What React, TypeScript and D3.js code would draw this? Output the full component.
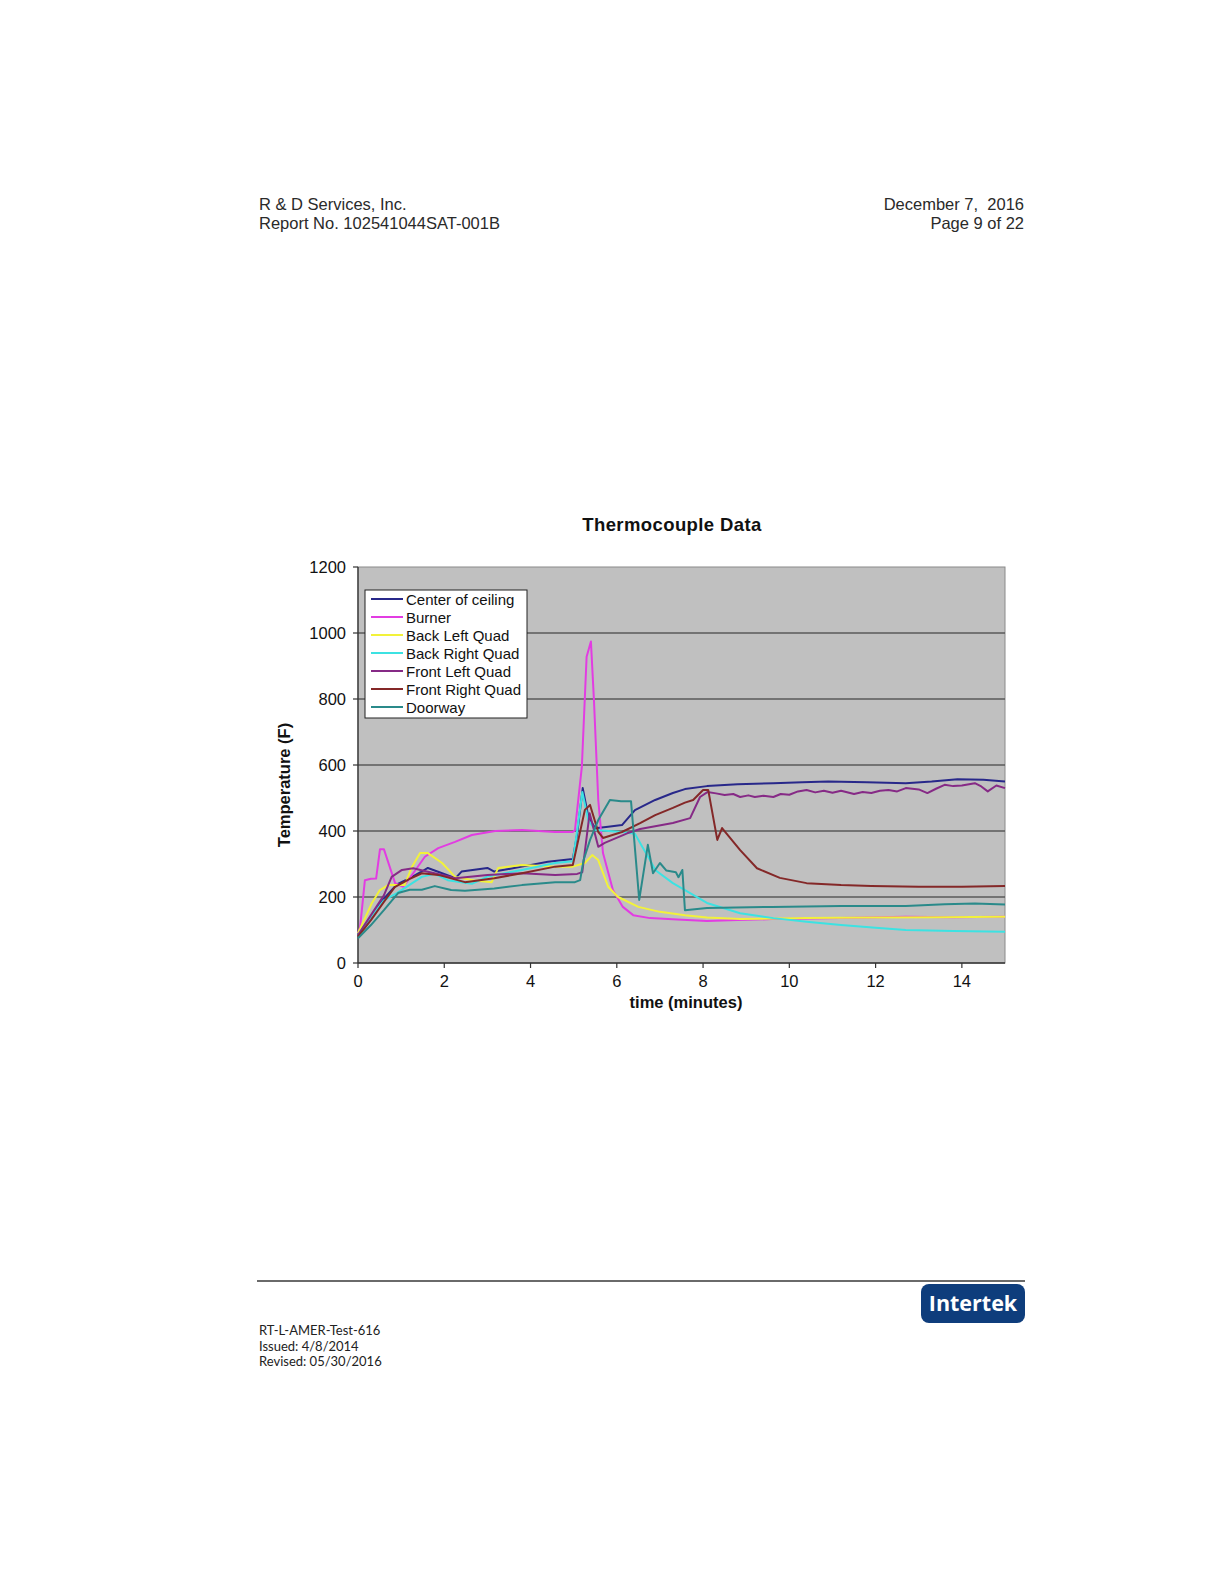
import React from "react";
import * as d3 from "d3";

type Pt = [number, number];

const seriesNames = [
  "Center of ceiling",
  "Burner",
  "Back Left Quad",
  "Back Right Quad",
  "Front Left Quad",
  "Front Right Quad",
  "Doorway",
];
const seriesColors = ["#28288a", "#e23ce2", "#f2f23a", "#3ce2e2", "#862a86", "#842828", "#2a8a8a"];

const centerCeiling: Pt[] = [
  [0, 85], [0.3, 140], [0.6, 195], [0.9, 238], [1.2, 257], [1.45, 275], [1.62, 288], [1.95, 272],
  [2.26, 257], [2.4, 277], [3.0, 288], [3.16, 277], [3.8, 292], [4.4, 307], [4.98, 315], [5.08, 390],
  [5.21, 530], [5.34, 443], [5.5, 408], [5.8, 413], [6.12, 418], [6.42, 463], [6.89, 494], [7.3, 515],
  [7.58, 527], [8.09, 536], [8.8, 542], [9.63, 545], [10.3, 548], [10.9, 550], [11.8, 548], [12.7, 545],
  [13.3, 550], [13.9, 557], [14.5, 555], [15, 550],
];
const burner: Pt[] = [
  [0, 90], [0.05, 110], [0.16, 251], [0.3, 255], [0.42, 256], [0.51, 345], [0.6, 345], [0.86, 242],
  [1.05, 231], [1.28, 272], [1.55, 322], [1.86, 348], [2.25, 367], [2.64, 388], [3.18, 400], [3.8, 403],
  [4.57, 397], [4.98, 397], [5.03, 403], [5.19, 595], [5.3, 928], [5.4, 974], [5.47, 797], [5.57, 494],
  [5.68, 333], [5.91, 221], [6.14, 170], [6.38, 145], [6.77, 136], [7.4, 132], [8.09, 127], [8.8, 130],
  [9.6, 133], [10.5, 135], [11.5, 137], [12.7, 140], [13.8, 139], [15, 140],
];
const backLeft: Pt[] = [
  [0, 90], [0.32, 181], [0.5, 220], [0.7, 236], [1.08, 236], [1.25, 291], [1.44, 333], [1.62, 333],
  [1.95, 303], [2.25, 261], [2.7, 250], [3.1, 245], [3.25, 288], [3.8, 297], [4.57, 292], [4.98, 292],
  [5.26, 303], [5.43, 327], [5.57, 312], [5.8, 231], [6.03, 200], [6.5, 170], [7.0, 155], [7.58, 145],
  [8.09, 138], [8.86, 133], [10.4, 136], [12.0, 138], [13.5, 139], [15, 140],
];
const backRight: Pt[] = [
  [0, 85], [0.3, 140], [0.6, 190], [0.9, 212], [1.08, 227], [1.48, 261], [1.78, 270], [2.08, 251],
  [2.64, 240], [3.0, 262], [3.8, 282], [4.57, 303], [4.98, 308], [5.08, 400], [5.2, 518], [5.34, 433],
  [5.5, 403], [6.12, 397], [6.42, 392], [6.59, 352], [6.77, 312], [6.89, 282], [7.3, 242], [7.58, 221],
  [8.09, 182], [8.86, 151], [9.63, 136], [10.4, 125], [11.2, 115], [12.0, 107], [12.7, 100], [13.8, 97],
  [15, 95],
];
const frontLeft: Pt[] = [
  [0, 85], [0.3, 145], [0.6, 205], [0.78, 261], [1.02, 282], [1.28, 287], [1.57, 278], [2.0, 265],
  [2.26, 257], [3.0, 267], [3.8, 272], [4.57, 267], [5.08, 270], [5.2, 275], [5.37, 454], [5.57, 352],
  [5.72, 364], [6.24, 393], [6.54, 406], [7.3, 424], [7.7, 439], [7.93, 503], [8.1, 518], [8.3, 514],
  [8.5, 509], [8.7, 512], [8.86, 503], [9.05, 508], [9.2, 503], [9.4, 507], [9.63, 503], [9.8, 512],
  [10.0, 510], [10.2, 520], [10.4, 524], [10.6, 517], [10.8, 522], [11.0, 516], [11.2, 522],
  [11.5, 512], [11.7, 518], [11.9, 515], [12.1, 522], [12.3, 524], [12.5, 520], [12.7, 530],
  [13.0, 526], [13.2, 515], [13.4, 528], [13.6, 540], [13.8, 536], [14.0, 538], [14.3, 545],
  [14.45, 535], [14.6, 520], [14.8, 538], [15, 530],
];
const frontRight: Pt[] = [
  [0, 80], [0.3, 130], [0.6, 185], [0.86, 231], [1.2, 255], [1.48, 272], [1.86, 267], [2.48, 245],
  [3.16, 257], [3.8, 272], [4.57, 292], [4.98, 297], [5.26, 464], [5.38, 479], [5.57, 397], [5.68, 379],
  [6.12, 397], [6.54, 424], [6.89, 448], [7.3, 470], [7.58, 486], [7.77, 494], [8.0, 524], [8.12, 524],
  [8.33, 373], [8.44, 409], [8.86, 342], [9.25, 287], [9.78, 258], [10.4, 242], [11.2, 236],
  [11.9, 233], [13.0, 231], [14.0, 231], [15, 233],
];
const doorway: Pt[] = [
  [0, 75], [0.3, 115], [0.6, 160], [0.93, 212], [1.2, 222], [1.48, 222], [1.78, 233], [2.16, 221],
  [2.48, 219], [3.16, 226], [3.8, 236], [4.57, 245], [5.03, 245], [5.15, 251], [5.23, 312],
  [5.38, 373], [5.57, 433], [5.84, 494], [6.1, 490], [6.33, 490], [6.52, 191], [6.72, 358], [6.84, 272],
  [7.0, 303], [7.15, 280], [7.37, 275], [7.43, 260], [7.52, 282], [7.58, 160], [8.09, 167],
  [9.6, 170], [11.2, 173], [12.7, 173], [13.6, 178], [14.3, 180], [15, 177],
];
const allSeries = [centerCeiling, burner, backLeft, backRight, frontLeft, frontRight, doorway];

const xTicks = [0, 2, 4, 6, 8, 10, 12, 14];
const yTicks = [0, 200, 400, 600, 800, 1000, 1200];

const headerLeft = ["R & D Services, Inc.", "Report No. 102541044SAT-001B"];
const headerRight = ["December 7,  2016", "Page 9 of 22"];
const footerLines = ["RT-L-AMER-Test-616", "Issued: 4/8/2014", "Revised: 05/30/2016"];

const PL = 358, PR = 1005, PT = 567, PB = 963;

export default function App() {
  const x = d3.scaleLinear().domain([0, 15]).range([PL, PR]);
  const y = d3.scaleLinear().domain([0, 1200]).range([PB, PT]);
  const line = d3.line<Pt>().x((d) => x(d[0])).y((d) => y(d[1]));
  const arial = "'Liberation Sans', Arial, sans-serif";

  React.useEffect(() => {
    document.body.style.margin = "0";
    document.body.style.overflow = "hidden";
  }, []);

  return (
    <svg width={1224} height={1584} style={{ position: "absolute", left: 0, top: 0, background: "#fff" }}>
      <rect width={1224} height={1584} fill="#fff" />
      {/* header */}
      <g fontFamily={arial} fontSize={16.5} fill="#2a2a2a">
        {headerLeft.map((t, i) => (
          <text key={t} x={259} y={210 + i * 19} xmlSpace="preserve" style={{ whiteSpace: "pre" }}>{t}</text>
        ))}
        {headerRight.map((t, i) => (
          <text key={t} x={1024} y={210 + i * 19} textAnchor="end" xmlSpace="preserve" style={{ whiteSpace: "pre" }}>{t}</text>
        ))}
      </g>

      {/* title */}
      <text x={672} y={531} textAnchor="middle" fontFamily={arial} fontWeight="bold" fontSize={18.5} letterSpacing={0.4} fill="#111">
        Thermocouple Data
      </text>

      {/* plot area */}
      <rect x={PL} y={PT} width={PR - PL} height={PB - PT} fill="#c0c0c0" stroke="#8a8a8a" strokeWidth={1} />
      {yTicks.filter((v) => v > 0 && v < 1200).map((v) => (
        <line key={v} x1={PL} x2={PR} y1={y(v)} y2={y(v)} stroke="#5a5a5a" strokeWidth={1.5} />
      ))}
      {/* axes */}
      <line x1={PL} x2={PL} y1={PT} y2={PB} stroke="#333" strokeWidth={1.3} />
      <line x1={PL} x2={PR} y1={PB} y2={PB} stroke="#333" strokeWidth={1.3} />
      {yTicks.map((v) => (
        <g key={v}>
          <line x1={PL - 5} x2={PL} y1={y(v)} y2={y(v)} stroke="#333" strokeWidth={1.2} />
          <text x={PL - 12} y={y(v) + 6} textAnchor="end" fontFamily={arial} fontSize={16.5} fill="#111">{v}</text>
        </g>
      ))}
      {xTicks.map((v) => (
        <g key={v}>
          <line x1={x(v)} x2={x(v)} y1={PB} y2={PB + 5} stroke="#333" strokeWidth={1.2} />
          <text x={x(v)} y={PB + 24} textAnchor="middle" fontFamily={arial} fontSize={16.5} fill="#111">{v}</text>
        </g>
      ))}
      <text x={686} y={1008} textAnchor="middle" fontFamily={arial} fontWeight="bold" fontSize={16.5} fill="#111">
        time (minutes)
      </text>
      <text
        transform={`translate(290, 785) rotate(-90)`}
        textAnchor="middle"
        fontFamily={arial}
        fontWeight="bold"
        fontSize={16.5}
        fill="#111"
      >
        Temperature (F)
      </text>

      {/* series */}
      <g fill="none" strokeWidth={2} strokeLinejoin="round">
        {allSeries.map((s, i) => (
          <path key={seriesNames[i]} d={line(s) || ""} stroke={seriesColors[i]} />
        ))}
      </g>

      {/* legend */}
      <rect x={365} y={590} width={162} height={128} fill="#fff" stroke="#222" strokeWidth={1} />
      {seriesNames.map((n, i) => (
        <g key={n}>
          <line x1={371} x2={403} y1={599 + i * 18} y2={599 + i * 18} stroke={seriesColors[i]} strokeWidth={2} />
          <text x={406} y={604.5 + i * 18} fontFamily={arial} fontSize={15} fill="#111">{n}</text>
        </g>
      ))}

      {/* footer */}
      <line x1={257} x2={1025} y1={1281} y2={1281} stroke="#6a6a6a" strokeWidth={2} />
      <rect x={921} y={1284} width={104} height={39} rx={8} fill="#0e3d7c" />
      <text x={973} y={1311} textAnchor="middle" fontFamily="'Open Sans', sans-serif" fontWeight="bold" fontSize={21.5} fill="#fff">
        Intertek
      </text>
      <g fontFamily="Lato, 'Open Sans', sans-serif" fontSize={13} fill="#222">
        {footerLines.map((t, i) => (
          <text key={t} x={259} y={1335 + i * 15.5}>{t}</text>
        ))}
      </g>
    </svg>
  );
}
